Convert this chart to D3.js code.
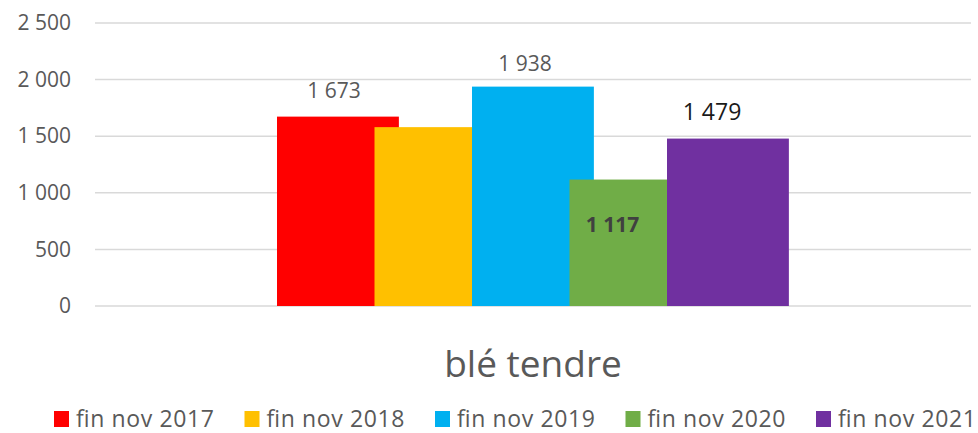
<!DOCTYPE html>
<html>
<head>
<meta charset="utf-8">
<script src="https://cdn.jsdelivr.net/npm/d3@7"></script>
<style>
  body { margin: 0; background: #fff; }
  text { font-family: "Open Sans", sans-serif; }
</style>
</head>
<body>
<div id="chart"></div>
<script>
// data
var category = "blé tendre";
var series = ["fin nov 2017", "fin nov 2018", "fin nov 2019", "fin nov 2020", "fin nov 2021"];
var values = [1673, 1580, 1938, 1117, 1479];
var colors = ["#FF0000", "#FFC000", "#00B0F0", "#70AD47", "#7030A0"];
var yTicks = [0, 500, 1000, 1500, 2000, 2500];

function init() {
    var w = 978;
    var h = 433;

    var svg = d3.select("#chart")
        .append("svg")
        .attr("width", w)
        .attr("height", h);

    var yScale = d3.scaleLinear()
        .domain([0, 2500])
        .range([306, 23]);

    // one category band over the plot width
    var x0 = d3.scaleBand()
        .domain([category])
        .range([95, 971]);

    var cx = x0(category) + x0.bandwidth() / 2;

    // series inside the category, bars wider than step so they overlap
    var x1 = d3.scaleBand()
        .domain(series)
        .range([cx - 256, cx + 231.5])
        .paddingInner(0);
    var barW = x1.step() * 1.25;

    // gridlines
    svg.append("g")
        .selectAll("line")
        .data(yTicks)
        .enter()
        .append("line")
        .attr("x1", 95)
        .attr("x2", 971)
        .attr("y1", function(d) { return yScale(d); })
        .attr("y2", function(d) { return yScale(d); })
        .attr("stroke", "#d9d9d9")
        .attr("stroke-width", 1.5);

    // y axis labels
    var yAxis = d3.axisLeft(yScale)
        .tickValues(yTicks)
        .tickSize(0)
        .tickPadding(0)
        .tickFormat(function(d) { return d3.format(",")(d).replace(/,/g, " "); });

    var gy = svg.append("g")
        .attr("transform", "translate(71,0)")
        .call(yAxis);
    gy.select(".domain").remove();
    gy.selectAll("text")
        .attr("font-family", "Open Sans, sans-serif")
        .attr("font-size", 21)
        .attr("fill", "#595959");

    var dataset = series.map(function(s, i) {
        return { name: s, value: values[i], color: colors[i] };
    });

    // bars
    svg.append("g")
        .selectAll("rect")
        .data(dataset)
        .enter()
        .append("rect")
        .attr("x", function(d) { return x1(d.name); })
        .attr("y", function(d) { return yScale(d.value); })
        .attr("width", barW)
        .attr("height", function(d) { return yScale(0) - yScale(d.value); })
        .attr("fill", function(d) { return d.color; });

    // data labels (the 2018 one is not shown in the original)
    var labelStyle = {
        "fin nov 2017": { dx: 57, dy: -19, size: 21, weight: "normal", fill: "#595959" },
        "fin nov 2019": { dx: 53, dy: -16, size: 21, weight: "normal", fill: "#595959" },
        "fin nov 2020": { dx: 43, dy: 52, size: 21, weight: "bold", fill: "#404040" },
        "fin nov 2021": { dx: 45, dy: -19, size: 23, weight: "normal", fill: "#1a1a1a" }
    };

    svg.append("g")
        .selectAll("text")
        .data(dataset.filter(function(d) { return labelStyle[d.name]; }))
        .enter()
        .append("text")
        .attr("x", function(d) { return x1(d.name) + labelStyle[d.name].dx; })
        .attr("y", function(d) { return yScale(d.value) + labelStyle[d.name].dy; })
        .attr("text-anchor", "middle")
        .attr("font-size", function(d) { return labelStyle[d.name].size; })
        .attr("font-weight", function(d) { return labelStyle[d.name].weight; })
        .attr("fill", function(d) { return labelStyle[d.name].fill; })
        .text(function(d) { return d3.format(",")(d.value).replace(/,/g, " "); });

    // category label
    svg.append("text")
        .attr("x", cx)
        .attr("y", 377)
        .attr("text-anchor", "middle")
        .attr("font-size", 37)
        .attr("fill", "#595959")
        .text(category);

    // legend, one slot per series
    var lgX = d3.scaleBand()
        .domain(series)
        .range([54, 54 + 5 * 190.5]);

    var item = svg.append("g")
        .selectAll("g")
        .data(dataset)
        .enter()
        .append("g")
        .attr("transform", function(d) { return "translate(" + lgX(d.name) + ",0)"; });

    item.append("rect")
        .attr("x", 0)
        .attr("y", 411)
        .attr("width", 15)
        .attr("height", 16)
        .attr("fill", function(d) { return d.color; });

    item.append("text")
        .attr("x", 22)
        .attr("y", 427)
        .attr("font-size", 23)
        .attr("fill", "#595959")
        .attr("textLength", 138)
        .attr("lengthAdjust", "spacing")
        .text(function(d) { return d.name; });
}
window.onload = init;
</script>
</body>
</html>
